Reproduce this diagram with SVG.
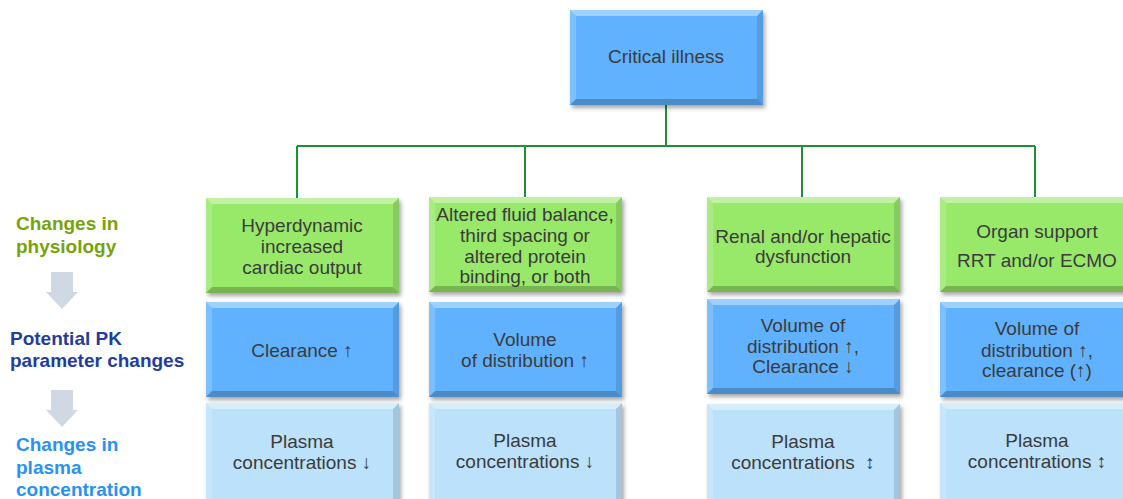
<svg xmlns="http://www.w3.org/2000/svg" xmlns:xlink="http://www.w3.org/1999/xlink" width="1123" height="499" viewBox="0 0 1123 499">
  <style>
    .t { font-family: "Liberation Sans", Arial, sans-serif; font-size: 19px; fill: #3b3b3b; text-anchor: middle; }
    .lbl { font-family: "Liberation Sans", Arial, sans-serif; font-size: 19px; font-weight: bold; }
    .green { fill: #98e86a; }
    .blue { fill: #60b2ff; }
    .pale { fill: #bbe1fb; }
    .hi { fill: #ffffff; opacity: 0.4; }
    .side { fill: #ffffff; opacity: 0.18; }
    .sh { fill: #000000; opacity: 0.12; }
    .lo { fill: #000000; opacity: 0.22; }
    .conn { stroke: #1f8f36; stroke-width: 2; fill: none; }
    .down { fill: #cfd8e3; }
  </style>
  <defs>
    <filter id="shadow" x="-10%" y="-10%" width="125%" height="130%">
      <feDropShadow dx="2" dy="3" stdDeviation="2" flood-color="#000" flood-opacity="0.35"/>
    </filter>
    <!-- bevelled edge overlay for a 193x95 box -->
    <g id="bevel">
      <polygon class="hi" points="0,0 193,0 187,6 6,6"/>
      <polygon class="side" points="0,0 6,6 6,89 0,95"/>
      <polygon class="sh" points="193,0 193,95 187,89 187,6"/>
      <polygon class="lo" points="0,95 193,95 187,89 6,89"/>
    </g>
    <!-- bevel for the bottom row, whose lower edge runs off the page -->
    <g id="bevelOpen">
      <polygon class="hi" points="0,0 193,0 187,6 6,6"/>
      <polygon class="side" points="0,0 6,6 6,110 0,110"/>
      <polygon class="sh" points="193,0 193,110 187,110 187,6"/>
    </g>
    <g id="downArrow">
      <polygon class="down" points="-11,0 11,0 11,20 16,20 0,37 -16,20 -11,20"/>
    </g>
  </defs>

  <rect width="1123" height="499" fill="#ffffff"/>

  <!-- row labels -->
  <g id="row-labels">
    <text class="lbl" x="16" y="230" fill="#76a30a">Changes in</text>
    <text class="lbl" x="16" y="253" fill="#76a30a">physiology</text>
    <use xlink:href="#downArrow" x="62" y="272"/>
    <text class="lbl" x="10" y="345" fill="#1f3d9e">Potential PK</text>
    <text class="lbl" x="10" y="367" fill="#1f3d9e">parameter changes</text>
    <use xlink:href="#downArrow" x="62" y="390"/>
    <text class="lbl" x="16" y="451" fill="#2792f2">Changes in</text>
    <text class="lbl" x="16" y="474" fill="#2792f2">plasma</text>
    <text class="lbl" x="16" y="496" fill="#2792f2">concentration</text>
  </g>

  <!-- tree connectors -->
  <g id="connectors">
    <path class="conn" d="M666,105 V146 M297,146 H1035 M297,146 V198 M525,146 V197 M802,146 V197 M1035,146 V197"/>
  </g>

  <g id="critical-illness" transform="translate(570,10)">
    <rect class="blue" width="193" height="95" filter="url(#shadow)"/>
    <use xlink:href="#bevel"/>
    <text class="t" x="96" y="53">Critical illness</text>
  </g>

  <!-- column 1 -->
  <g id="hyperdynamic" transform="translate(206,198)">
    <rect class="green" width="193" height="95" filter="url(#shadow)"/>
    <use xlink:href="#bevel"/>
    <text class="t" x="96" y="34">Hyperdynamic</text>
    <text class="t" x="96" y="55">increased</text>
    <text class="t" x="96" y="76">cardiac output</text>
  </g>
  <g id="clearance-up" transform="translate(206,302)">
    <rect class="blue" width="193" height="95" filter="url(#shadow)"/>
    <use xlink:href="#bevel"/>
    <text class="t" x="96" y="55">Clearance ↑</text>
  </g>
  <g id="plasma-1" transform="translate(206,403)">
    <rect class="pale" width="193" height="110" filter="url(#shadow)"/>
    <use xlink:href="#bevelOpen"/>
    <text class="t" x="96" y="45">Plasma</text>
    <text class="t" x="96" y="66">concentrations ↓</text>
  </g>

  <!-- column 2 -->
  <g id="fluid-balance" transform="translate(429,197)">
    <rect class="green" width="193" height="95" filter="url(#shadow)"/>
    <use xlink:href="#bevel"/>
    <text class="t" x="96" y="24">Altered fluid balance,</text>
    <text class="t" x="96" y="45">third spacing or</text>
    <text class="t" x="96" y="66">altered protein</text>
    <text class="t" x="96" y="86">binding, or both</text>
  </g>
  <g id="volume-up" transform="translate(429,302)">
    <rect class="blue" width="193" height="95" filter="url(#shadow)"/>
    <use xlink:href="#bevel"/>
    <text class="t" x="96" y="44">Volume</text>
    <text class="t" x="96" y="65">of distribution ↑</text>
  </g>
  <g id="plasma-2" transform="translate(429,403)">
    <rect class="pale" width="193" height="110" filter="url(#shadow)"/>
    <use xlink:href="#bevelOpen"/>
    <text class="t" x="96" y="44">Plasma</text>
    <text class="t" x="96" y="65">concentrations ↓</text>
  </g>

  <!-- column 3 -->
  <g id="renal-hepatic" transform="translate(707,197)">
    <rect class="green" width="193" height="95" filter="url(#shadow)"/>
    <use xlink:href="#bevel"/>
    <text class="t" x="96" y="46">Renal and/or hepatic</text>
    <text class="t" x="96" y="66">dysfunction</text>
  </g>
  <g id="volume-clearance" transform="translate(707,299)">
    <rect class="blue" width="193" height="95" filter="url(#shadow)"/>
    <use xlink:href="#bevel"/>
    <text class="t" x="96" y="33">Volume of</text>
    <text class="t" x="96" y="54">distribution ↑,</text>
    <text class="t" x="96" y="74">Clearance ↓</text>
  </g>
  <g id="plasma-3" transform="translate(707,404)">
    <rect class="pale" width="193" height="110" filter="url(#shadow)"/>
    <use xlink:href="#bevelOpen"/>
    <text class="t" x="96" y="44" xml:space="preserve">Plasma</text>
    <text class="t" x="96" y="65" xml:space="preserve">concentrations  ↕</text>
  </g>

  <!-- column 4 -->
  <g id="organ-support" transform="translate(940,197)">
    <rect class="green" width="193" height="95" filter="url(#shadow)"/>
    <use xlink:href="#bevel"/>
    <text class="t" x="97" y="41">Organ support</text>
    <text class="t" x="97" y="70">RRT and/or ECMO</text>
  </g>
  <g id="volume-clearance-2" transform="translate(940,302)">
    <rect class="blue" width="193" height="95" filter="url(#shadow)"/>
    <use xlink:href="#bevel"/>
    <text class="t" x="97" y="33">Volume of</text>
    <text class="t" x="97" y="55">distribution ↑,</text>
    <text class="t" x="97" y="75">clearance (↑)</text>
  </g>
  <g id="plasma-4" transform="translate(940,403)">
    <rect class="pale" width="193" height="110" filter="url(#shadow)"/>
    <use xlink:href="#bevelOpen"/>
    <text class="t" x="97" y="44">Plasma</text>
    <text class="t" x="97" y="65">concentrations ↕</text>
  </g>
</svg>
